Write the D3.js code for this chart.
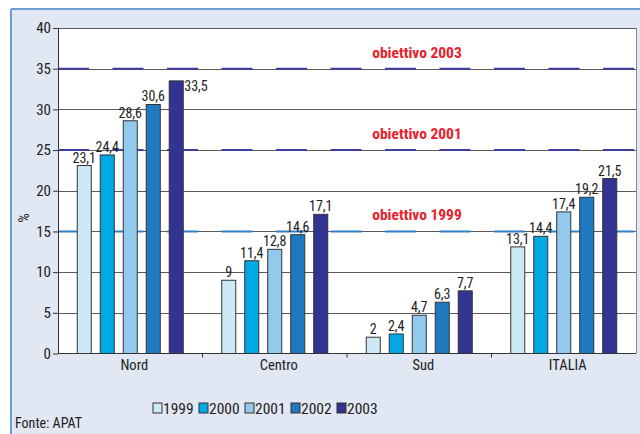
<!DOCTYPE html>
<html><head><meta charset="utf-8">
<script src="https://cdn.jsdelivr.net/npm/d3@7"></script>
<style>
body{margin:0;padding:0;background:#fff;}
text{font-family:"Liberation Sans Narrow","Arial Narrow","Roboto Condensed","Liberation Sans",Arial,sans-serif;}
</style></head>
<body><svg id="c" width="640" height="434"></svg>
<script>
const categories = ["Nord","Centro","Sud","ITALIA"];
const years = ["1999","2000","2001","2002","2003"];
const v1999 = [23.1, 9, 2, 13.1];
const v2000 = [24.4, 11.4, 2.4, 14.4];
const v2001 = [28.6, 12.8, 4.7, 17.4];
const v2002 = [30.6, 14.6, 6.3, 19.2];
const v2003 = [33.5, 17.1, 7.7, 21.5];
const yTicks = [0,5,10,15,20,25,30,35,40];
const targets = [35, 25, 15];
const targetLabels = ["obiettivo 2003","obiettivo 2001","obiettivo 1999"];
const colors = ["#cde9f5","#00a9e6","#93c9ec","#1f79c1","#323392"];

const series = [v1999,v2000,v2001,v2002,v2003];
const svg = d3.select("#c");

// frame
svg.append("rect").attr("x",11).attr("y",9).attr("width",629).attr("height",425).attr("fill","#e1e7f3");
svg.append("line").attr("x1",11).attr("x2",640).attr("y1",9).attr("y2",9).attr("stroke","#6b9fd4").attr("stroke-width",2);
svg.append("line").attr("x1",11).attr("x2",11).attr("y1",9).attr("y2",434).attr("stroke","#6b9fd4").attr("stroke-width",2);

const L=58, R=636, T=28, B=353.5;
const y = d3.scaleLinear().domain([0,40]).range([B,T]);
const x0 = d3.scaleBand().domain(categories).range([L,R]).paddingInner(0).paddingOuter(0);
const x1 = d3.scaleBand().domain(years).range([0,x0.bandwidth()]).paddingInner(0.39).paddingOuter(0.837);

svg.append("rect").attr("x",L).attr("y",T).attr("width",R-L).attr("height",B-T).attr("fill","#fff");

// gridlines
svg.append("g").selectAll("line").data(yTicks.filter(d=>d>0)).join("line")
  .attr("x1",L).attr("x2",R).attr("y1",d=>Math.round(y(d))+0.5).attr("y2",d=>Math.round(y(d))+0.5)
  .attr("stroke","#5a5a5a").attr("stroke-width",1);
svg.append("line").attr("x1",R+0.5).attr("x2",R+0.5).attr("y1",T).attr("y2",B).attr("stroke","#888");

// target lines
svg.append("g").selectAll("line").data(targets).join("line")
  .attr("x1",L).attr("x2",R).attr("y1",d=>y(d)).attr("y2",d=>y(d))
  .attr("stroke",(d,i)=>i<2?"#3d3da3":"#2f80c8").attr("stroke-width",2)
  .attr("stroke-dasharray","31,23.5");

// axes
const yAxis = d3.axisLeft(y).tickValues(yTicks).tickSize(5).tickSizeOuter(0).tickFormat(d3.format("d"));
const gy = svg.append("g").attr("transform",`translate(${L},0)`).call(yAxis);
gy.select(".domain").attr("stroke","#333");
gy.selectAll(".tick line").attr("stroke","#333");
gy.selectAll("text").attr("font-size",15).attr("fill","#222").attr("x",-7);

const gx = svg.append("g").attr("transform",`translate(0,${B})`);
gx.append("line").attr("x1",L).attr("x2",R).attr("y1",0).attr("y2",0).attr("stroke","#333");
gx.selectAll(".tk").data(categories.slice(1)).join("line").attr("class","tk")
  .attr("x1",d=>x0(d)).attr("x2",d=>x0(d)).attr("y1",0).attr("y2",4).attr("stroke","#333");
gx.selectAll("text").data(categories).join("text")
  .attr("x",d=>x0(d)+x0.bandwidth()/2+4).attr("y",16).attr("text-anchor","middle")
  .attr("font-size",14.5).attr("fill","#222").text(d=>d);

// bars
const fmt = v => String(v).replace(".",",");
const groups = svg.append("g").selectAll("g").data(categories).join("g")
  .attr("transform",d=>`translate(${x0(d)},0)`);
groups.each(function(cat,ci){
  const g = d3.select(this);
  years.forEach((yr,si)=>{
    const v = series[si][ci];
    g.append("rect").attr("x",x1(yr)).attr("y",y(v)).attr("width",x1.bandwidth()).attr("height",B-y(v))
      .attr("fill",colors[si]).attr("stroke","#333").attr("stroke-width",1);
    const right = v>32;
    g.append("text").attr("x",right? x1(yr)+x1.bandwidth()+1 : x1(yr)+x1.bandwidth()/2)
      .attr("y",right? y(v)+10 : y(v)-3).attr("text-anchor",right?"start":"middle")
      .attr("font-size",14).attr("fill","#222").text(fmt(v));
  });
});

// target labels
svg.append("g").selectAll("text").data(targets).join("text")
  .attr("x",417).attr("y",d=>y(d)-11).attr("text-anchor","middle")
  .attr("font-size",15.5).attr("font-weight","bold").attr("fill","#e8202a")
  .text((d,i)=>targetLabels[i]);

// y title
svg.append("text").attr("transform","translate(29,218) rotate(-90)").attr("text-anchor","middle")
  .attr("font-size",15).attr("fill","#222").text("%");

// legend
const lg = svg.append("g").selectAll("g").data(years).join("g")
  .attr("transform",(d,i)=>`translate(${153+i*46},403)`);
lg.append("rect").attr("width",9).attr("height",10).attr("fill",(d,i)=>colors[i]).attr("stroke","#333");
lg.append("text").attr("x",10).attr("y",10.5).attr("font-size",15.5).attr("fill","#222").text(d=>d);

svg.append("text").attr("x",15).attr("y",428).attr("font-size",14).attr("fill","#222").text("Fonte: APAT");
</script></body></html>
